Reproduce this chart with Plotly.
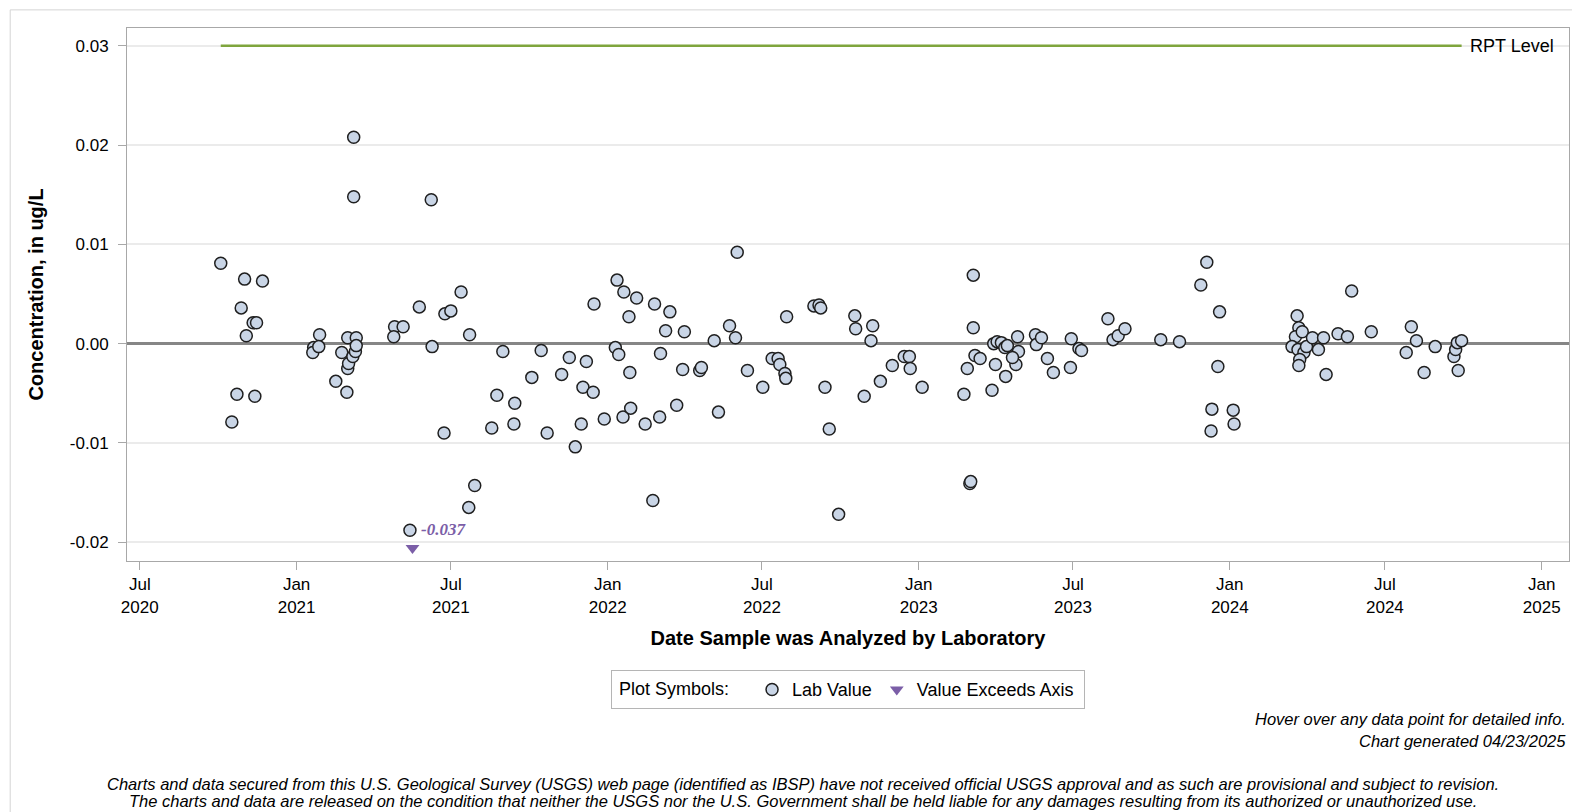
import plotly.graph_objects as go

# lab results (date analyzed, concentration ug/L)
sample_dates = [
    "2020-10-04", "2020-10-17", "2020-10-23", "2020-10-28", "2020-11-01", "2020-11-03",
    "2020-11-11", "2020-11-15", "2020-11-13", "2020-11-22",
    "2021-01-21", "2021-01-20", "2021-01-28", "2021-01-27",
    "2021-02-16", "2021-02-23", "2021-03-01", "2021-03-02", "2021-03-03", "2021-03-02",
    "2021-03-08", "2021-03-11", "2021-03-12", "2021-03-12", "2021-03-09", "2021-03-09",
    "2021-04-26", "2021-05-06", "2021-04-25", "2021-05-25", "2021-06-08", "2021-06-09",
    "2021-06-24", "2021-07-01", "2021-06-23", "2021-07-13", "2021-07-23", "2021-07-22",
    "2021-07-29", "2021-05-14", "2021-08-31", "2021-08-24", "2021-09-14", "2021-08-18",
    "2021-09-13", "2021-10-04", "2021-10-15", "2021-10-22", "2021-11-08", "2021-11-17",
    "2021-11-24", "2021-12-03", "2021-12-07", "2021-12-01", "2021-12-15", "2021-12-16",
    "2021-12-28",
    "2022-01-12", "2022-01-20", "2022-02-04", "2022-01-26", "2022-01-10", "2022-01-14",
    "2022-01-27", "2022-01-19", "2022-01-28", "2022-02-14", "2022-02-25", "2022-03-04",
    "2022-03-10", "2022-03-15", "2022-03-03", "2022-02-23", "2022-03-23", "2022-04-01",
    "2022-03-30", "2022-04-19", "2022-04-21", "2022-05-06", "2022-05-11", "2022-05-24",
    "2022-05-31", "2022-06-02", "2022-06-14", "2022-07-02", "2022-07-13", "2022-07-20",
    "2022-07-22", "2022-07-28", "2022-07-29", "2022-07-30",
    "2022-08-31", "2022-09-06", "2022-09-08", "2022-09-13", "2022-09-18", "2022-09-29",
    "2022-10-18", "2022-10-19", "2022-10-29", "2022-11-08", "2022-11-06", "2022-11-17",
    "2022-12-01", "2022-12-15", "2022-12-21", "2022-12-22",
    "2023-01-05", "2023-02-23", "2023-03-02", "2023-03-03", "2023-03-06", "2023-03-06",
    "2023-02-27", "2023-03-08", "2023-03-14", "2023-03-28", "2023-03-30", "2023-04-03",
    "2023-04-01", "2023-04-08", "2023-04-12", "2023-04-15", "2023-04-13", "2023-04-27",
    "2023-04-28", "2023-04-25", "2023-04-21", "2023-05-18", "2023-05-19", "2023-05-25",
    "2023-06-01", "2023-06-08", "2023-06-28", "2023-06-29", "2023-07-08", "2023-07-11",
    "2023-08-11", "2023-08-17", "2023-08-23", "2023-08-31", "2023-10-12", "2023-11-03",
    "2023-11-28", "2023-12-05", "2023-12-20", "2023-12-18", "2023-12-11", "2023-12-10",
    "2024-01-05", "2024-01-06",
    "2024-03-20", "2024-03-22", "2024-03-18", "2024-03-26", "2024-03-14", "2024-03-21",
    "2024-03-28", "2024-03-31", "2024-03-23", "2024-03-22", "2024-04-07", "2024-04-20",
    "2024-04-14", "2024-04-23", "2024-05-07", "2024-05-18", "2024-05-23", "2024-06-15",
    "2024-08-01", "2024-08-07", "2024-07-26", "2024-08-16", "2024-08-29", "2024-09-20",
    "2024-09-22", "2024-09-24", "2024-09-29", "2024-09-25",
]
lab_values = [
    0.0081, -0.0079, -0.0051, 0.0036, 0.0065, 0.0008,
    0.0021, 0.0021, -0.0053, 0.0063,
    -0.0004, -0.0009, 0.0009, -0.0003,
    -0.0038, -0.0009, -0.0049, -0.0025, -0.0020, 0.0006,
    -0.0013, -0.0008, 0.0006, -0.0002, 0.0208, 0.0148,
    0.0017, 0.0017, 0.0007, 0.0037, 0.0145, -0.0003,
    0.0030, 0.0033, -0.0090, 0.0052, 0.0009, -0.0165,
    -0.0143, -0.0188, -0.0008, -0.0052, -0.0060, -0.0085,
    -0.0081, -0.0034, -0.0007, -0.0090, -0.0031, -0.0014,
    -0.0104, -0.0044, -0.0018, -0.0081, -0.0049, 0.0040,
    -0.0076,
    0.0064, 0.0052, 0.0046, 0.0027, -0.0004, -0.0011,
    -0.0029, -0.0074, -0.0065, -0.0081, 0.0040, -0.0010,
    0.0013, 0.0032, -0.0074, -0.0158, -0.0062, 0.0012,
    -0.0026, -0.0027, -0.0024, 0.0003, -0.0069, 0.0018,
    0.0006, 0.0092, -0.0027, -0.0044, -0.0015, -0.0015,
    -0.0021, -0.0030, -0.0035, 0.0027,
    0.0038, 0.0039, 0.0036, -0.0044, -0.0086, -0.0172,
    0.0028, 0.0015, -0.0053, 0.0018, 0.0003, -0.0038,
    -0.0022, -0.0013, -0.0013, -0.0025,
    -0.0044, -0.0051, -0.0141, -0.0139, 0.0069, 0.0016,
    -0.0025, -0.0012, -0.0015, -0.0047, 0.0000, 0.0002,
    -0.0021, 0.0001, -0.0004, -0.0002, -0.0033, 0.0007,
    -0.0008, -0.0021, -0.0014, 0.0009, -0.0001, 0.0006,
    -0.0015, -0.0029, -0.0024, 0.0005, -0.0005, -0.0007,
    0.0025, 0.0004, 0.0008, 0.0015, 0.0004, 0.0002,
    0.0059, 0.0082, 0.0032, -0.0023, -0.0066, -0.0088,
    -0.0067, -0.0081,
    0.0028, 0.0016, 0.0007, 0.0012, -0.0003, -0.0006,
    -0.0009, -0.0003, -0.0016, -0.0022, 0.0006, 0.0006,
    -0.0006, -0.0031, 0.0010, 0.0007, 0.0053, 0.0012,
    0.0017, 0.0003, -0.0009, -0.0029, -0.0003, -0.0013,
    -0.0006, 0.0001, 0.0003, -0.0027,
]

# values below the axis floor
exceed_dates = ["2021-05-17"]
exceed_values = [-0.037]

rpt_level = 0.03

tick_dates = ["2020-07-01", "2021-01-01", "2021-07-01", "2022-01-01", "2022-07-01",
              "2023-01-01", "2023-07-01", "2024-01-01", "2024-07-01", "2025-01-01"]
tick_labels = ["Jul<br>2020", "Jan<br>2021", "Jul<br>2021", "Jan<br>2022", "Jul<br>2022",
               "Jan<br>2023", "Jul<br>2023", "Jan<br>2024", "Jul<br>2024", "Jan<br>2025"]
y_tick_vals = [-0.02, -0.01, 0.0, 0.01, 0.02, 0.03]
y_tick_labels = ["-0.02", "-0.01", "0.00", "0.01", "0.02", "0.03"]

y_range = [-0.0219, 0.0318]
x_range = ["2020-06-16", "2025-02-02"]

FONT = "Liberation Sans, Arial, sans-serif"

fig = go.Figure()

# reporting level line over the sampled period
rpt_x = [min(sample_dates), max(sample_dates)]
fig.add_trace(go.Scatter(x=rpt_x, y=[rpt_level, rpt_level], mode='lines',
                         line=dict(color='#7fa53d', width=2.5),
                         showlegend=False, hoverinfo='skip'))

fig.add_trace(go.Scatter(x=sample_dates, y=lab_values, mode='markers', name='Lab Value',
                         marker=dict(symbol='circle', size=12, color='#c9d5e6',
                                     line=dict(color='#1f1f1f', width=1.5)),
                         hovertemplate='%{x|%m/%d/%Y}<br>%{y:.4f} ug/L<extra></extra>'))

# off-scale values: pinned to the bottom of the axis, labelled with the real value
floor_y = [y_range[0] + 0.0013 for _ in exceed_values]
fig.add_trace(go.Scatter(x=exceed_dates, y=floor_y, mode='markers+text',
                         name='Value Exceeds Axis\u00a0',
                         marker=dict(symbol='triangle-down', size=12, color='#7b5ea7'),
                         text=[f"{v:.3f}" for v in exceed_values],
                         textposition='top right',
                         textfont=dict(family="Liberation Serif, Times New Roman, serif",
                                       size=17, color='#7b5ea7', weight='bold', style='italic'),
                         customdata=exceed_values,
                         hovertemplate='%{x|%m/%d/%Y}<br>%{customdata:.3f} ug/L<extra></extra>'))

fig.add_annotation(x=rpt_x[1], y=rpt_level, text="RPT Level", showarrow=False,
                   xanchor='left', xshift=6, font=dict(family=FONT, size=18, color='#000'))

note_font = dict(family=FONT, size=16.5, color='#000')
fig.add_annotation(xref='paper', yref='paper', x=0.999, y=-0.2964, xanchor='right', yanchor='middle',
                   text="<i>Hover over any data point for detailed info.</i>", showarrow=False,
                   font=note_font)
fig.add_annotation(xref='paper', yref='paper', x=0.999, y=-0.3377, xanchor='right', yanchor='middle',
                   text="<i>Chart generated 04/23/2025</i>", showarrow=False, font=note_font)
fig.add_annotation(xref='paper', yref='paper', x=0.469, y=-0.4184, xanchor='center', yanchor='middle',
                   text="<i>Charts and data secured from this U.S. Geological Survey (USGS) web page (identified as IBSP) have not received official USGS approval and as such are provisional and subject to revision.</i>",
                   showarrow=False, font=note_font)
fig.add_annotation(xref='paper', yref='paper', x=0.469, y=-0.4503, xanchor='center', yanchor='middle',
                   text="<i>The charts and data are released on the condition that neither the USGS nor the U.S. Government shall be held liable for any damages resulting from its authorized or unauthorized use.</i>",
                   showarrow=False, font=note_font)

# outer frame
fig.add_shape(type='rect', xref='paper', yref='paper', x0=-0.081, x1=1.01, y0=-0.5, y1=1.034,
              line=dict(color='#d4d4d4', width=1), layer='below')

fig.update_layout(
    width=1572, height=812,
    margin=dict(l=127, r=3, t=28, b=251),
    paper_bgcolor='white', plot_bgcolor='white',
    font=dict(family=FONT, size=17, color='#000'),
    legend=dict(orientation='h', x=0.5, xanchor='center', y=-0.205, yanchor='top',
                title=dict(text='\u00a0Plot Symbols:\u00a0\u00a0\u00a0', font=dict(size=18)),
                bordercolor='#b5b5b5', borderwidth=1, font=dict(size=18),
                itemwidth=30, tracegroupgap=0),
    xaxis=dict(range=x_range, tickvals=tick_dates, ticktext=tick_labels,
               showgrid=False, showline=True, linecolor='#a8a8a8', mirror=True,
               ticks='outside', ticklen=8, tickcolor='#a8a8a8',
               tickfont=dict(size=17),
               title=dict(text='<b>Date Sample was Analyzed by Laboratory</b>',
                          font=dict(size=20), standoff=15)),
    yaxis=dict(range=y_range, tickvals=y_tick_vals, ticktext=y_tick_labels,
               showgrid=True, gridcolor='#ebebeb', gridwidth=1.5,
               zeroline=True, zerolinecolor='#868686', zerolinewidth=2.5,
               showline=True, linecolor='#a8a8a8', mirror=True,
               ticks='outside', ticklen=8, tickcolor='#a8a8a8', ticklabelstandoff=6,
               tickfont=dict(size=17),
               title=dict(text='<b>Concentration, in ug/L</b>', font=dict(size=20), standoff=20)),
)

# drop the default page margin so the figure sits at the window origin
fig.write_html("out.html", config={'displayModeBar': False},
               post_script="document.body.style.margin='0';")
